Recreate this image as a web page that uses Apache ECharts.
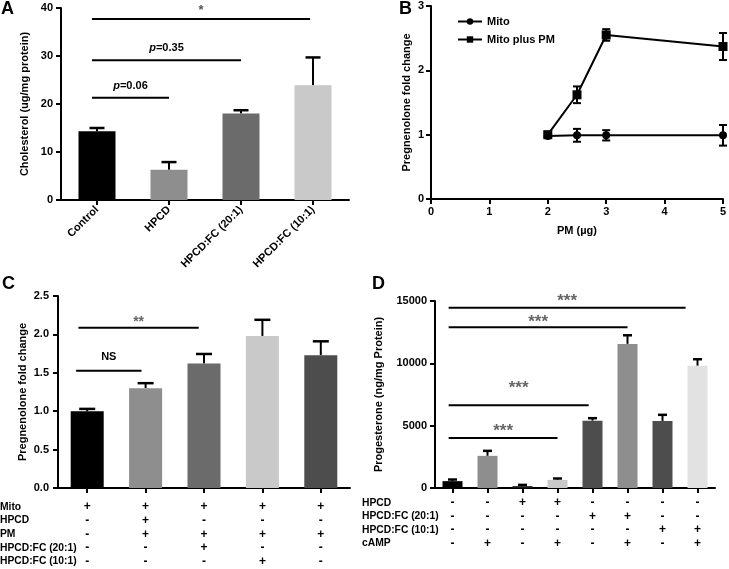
<!DOCTYPE html>
<html><head><meta charset="utf-8">
<script src="https://cdn.jsdelivr.net/npm/echarts@6/dist/echarts.min.js"></script>
<style>html,body{margin:0;padding:0;background:#fff}#c{width:729px;height:569px}</style>
</head><body><div id="c"></div>
<script>
// ---------- Panel A ----------
const catA = ['Control', 'HPCD', 'HPCD:FC (20:1)', 'HPCD:FC (10:1)'];
const valA = [14.3, 6.3, 18.0, 23.9];
const errA = [15.0, 7.9, 18.7, 29.7];
const sigA = [[-0.07, 2.96, 37.7, '*', 40.2], [-0.07, 2, 29.1, '{i|p}=0.35', 31.7], [-0.07, 1, 21.3, '{i|p}=0.06', 23.8]];
const ticksA = [0, 10, 20, 30, 40];

// ---------- Panel B ----------
const xB = [2, 2.5, 3, 5];
const mito = [0.98, 0.99, 0.99, 0.99];
const mitoErr = [0.02, 0.1, 0.08, 0.16];
const mitoPM = [1.0, 1.62, 2.55, 2.37];
const mitoPMErr = [0.03, 0.13, 0.09, 0.21];

// ---------- Panel C ----------
const catC = ['c1', 'c2', 'c3', 'c4', 'c5'];
const valC = [1.0, 1.30, 1.62, 1.98, 1.73];
const errC = [1.03, 1.365, 1.745, 2.19, 1.91];
const rowsC = ['Mito', 'HPCD', 'PM', 'HPCD:FC (20:1)', 'HPCD:FC (10:1)'];
const tableC = [
  ['+', '-', '-', '-', '-'],
  ['+', '+', '+', '-', '-'],
  ['+', '-', '+', '+', '-'],
  ['+', '-', '+', '-', '+'],
  ['+', '-', '+', '-', '-']
];
const sigC = [[-0.15, 1.91, 2.087, '**', 2.215], [-0.19, 0.93, 1.527, 'NS', 1.71]];

// ---------- Panel D ----------
const catD = ['d1', 'd2', 'd3', 'd4', 'd5', 'd6', 'd7', 'd8'];
const valD = [550, 2580, 150, 650, 5400, 11560, 5380, 9800];
const errD = [680, 2980, 250, 760, 5600, 12250, 5870, 10330];
const rowsD = ['HPCD', 'HPCD:FC (20:1)', 'HPCD:FC (10:1)', 'cAMP'];
const tableD = [
  ['-', '-', '-', '-'],
  ['-', '-', '-', '+'],
  ['+', '-', '-', '-'],
  ['+', '-', '-', '+'],
  ['-', '+', '-', '-'],
  ['-', '+', '-', '+'],
  ['-', '-', '+', '-'],
  ['-', '-', '+', '+']
];
const sigD = [
  [-0.11, 6.66, 14466, '***', 15350],
  [-0.11, 5, 12891, '***', 13665],
  [-0.11, 3.89, 6646, '***', 8407],
  [-0.11, 3, 4004, '***', 4938]
];

// ---------- styles ----------
const FONT = '"Liberation Sans", Arial, sans-serif';
const colorsA = ['#000000', '#8e8e8e', '#6b6b6b', '#c9c9c9'];
const colorsC = ['#000000', '#8e8e8e', '#6b6b6b', '#c9c9c9', '#4d4d4d'];
const colorsD = ['#000000', '#8e8e8e', '#1a1a1a', '#c9c9c9', '#4d4d4d', '#8e8e8e', '#4d4d4d', '#e2e2e2'];

const axisLine = { show: true, lineStyle: { color: '#000', width: 2 } };
const axisTick = { show: true, length: 5, lineStyle: { color: '#000', width: 2 } };
const lbl = { color: '#000', fontFamily: FONT, fontWeight: 'bold', fontSize: 11 };

function errBarRender(capW) {
  return function (params, api) {
    const x = api.value(0), v = api.value(1), e = api.value(2);
    const p0 = api.coord([x, v]), p1 = api.coord([x, e]);
    return { type: 'group', children: [
      { type: 'line', shape: { x1: p0[0], y1: p0[1], x2: p1[0], y2: p1[1] }, style: { stroke: '#000', lineWidth: 2 } },
      { type: 'line', shape: { x1: p1[0] - capW / 2, y1: p1[1], x2: p1[0] + capW / 2, y2: p1[1] }, style: { stroke: '#000', lineWidth: 2.5 } }
    ]};
  };
}
function errTwoRender(capW) {
  return function (params, api) {
    const x = api.value(0), v = api.value(1), e = api.value(2);
    const pt = api.coord([x, v + e]), pb = api.coord([x, v - e]);
    return { type: 'group', children: [
      { type: 'line', shape: { x1: pt[0], y1: pt[1], x2: pb[0], y2: pb[1] }, style: { stroke: '#000', lineWidth: 2 } },
      { type: 'line', shape: { x1: pt[0] - capW / 2, y1: pt[1], x2: pt[0] + capW / 2, y2: pt[1] }, style: { stroke: '#000', lineWidth: 2 } },
      { type: 'line', shape: { x1: pb[0] - capW / 2, y1: pb[1], x2: pb[0] + capW / 2, y2: pb[1] }, style: { stroke: '#000', lineWidth: 2 } }
    ]};
  };
}
function sigRender(list, textStyle, starStyle) {
  return function (params, api) {
    const d = list[params.dataIndex];
    const base = api.coord([0, d[2]]);
    const band = api.size([1, 0])[0];
    const x1 = base[0] + d[0] * band, x2 = base[0] + d[1] * band;
    const isStar = d[3].indexOf('*') === 0;
    const st = isStar ? starStyle : textStyle;
    const ty = api.coord([0, d[4]])[1] + (isStar ? st.dy : 0);
    return { type: 'group', children: [
      { type: 'line', shape: { x1: x1, y1: base[1], x2: x2, y2: base[1] }, style: { stroke: '#000', lineWidth: 2 } },
      { type: 'text', x: (x1 + x2) / 2, y: ty, style: {
          text: d[3], align: 'center', verticalAlign: 'middle',
          fontFamily: st.fontFamily, fontWeight: st.fontWeight, fontSize: st.fontSize, fill: st.fill,
          rich: { i: { fontStyle: 'italic', fontWeight: 'bold', fontSize: 11, fontFamily: FONT, fill: '#000' } }
        } }
    ]};
  };
}
const plainText = { fontFamily: FONT, fontWeight: 'bold', fontSize: 11, fill: '#000' };

const chart = echarts.init(document.getElementById('c'), null, { renderer: 'canvas' });
chart.setOption({
  animation: false,
  backgroundColor: '#fff',
  textStyle: { fontFamily: FONT },
  grid: [
    { left: 61, top: 8, width: 288, height: 192, containLabel: false, outerBoundsMode: 'none' },
    { left: 431, top: 6, width: 292, height: 193, containLabel: false, outerBoundsMode: 'none' },
    { left: 58, top: 296, width: 292, height: 192, containLabel: false, outerBoundsMode: 'none' },
    { left: 435, top: 301, width: 280, height: 187, containLabel: false, outerBoundsMode: 'none' }
  ],
  legend: {
    data: ['Mito', 'Mito plus PM'], orient: 'vertical', left: 452, top: 11,
    itemWidth: 24, itemHeight: 8, itemGap: 7,
    textStyle: { color: '#000', fontFamily: FONT, fontWeight: 'bold', fontSize: 11 }
  },
  xAxis: [
    { gridIndex: 0, type: 'category', data: catA, axisLine, axisTick: Object.assign({ alignWithLabel: true }, axisTick),
      axisLabel: Object.assign({ rotate: 45, margin: 8, interval: 0 }, lbl) },
    { gridIndex: 1, type: 'value', min: 0, max: 5, interval: 1, axisLine, axisTick, splitLine: { show: false },
      axisLabel: Object.assign({ margin: 7 }, lbl),
      name: 'PM (µg)', nameLocation: 'middle', nameGap: 26,
      nameTextStyle: { color: '#000', fontFamily: FONT, fontWeight: 'bold', fontSize: 11 } },
    { gridIndex: 2, type: 'category', data: catC, axisLine, axisTick: Object.assign({ alignWithLabel: true }, axisTick),
      axisLabel: Object.assign({}, lbl, { margin: 12, lineHeight: 13.7, fontSize: 12, interval: 0,
        formatter: (v, i) => tableC[i].join('\n') }) },
    { gridIndex: 3, type: 'category', data: catD, axisLine, axisTick: Object.assign({ alignWithLabel: true }, axisTick),
      axisLabel: Object.assign({}, lbl, { margin: 8, lineHeight: 13.5, fontSize: 12, interval: 0,
        formatter: (v, i) => tableD[i].join('\n') }) }
  ],
  yAxis: [
    { gridIndex: 0, type: 'value', min: ticksA[0], max: ticksA[ticksA.length - 1], interval: 10, axisLine, axisTick,
      splitLine: { show: false }, axisLabel: Object.assign({ margin: 8 }, lbl),
      name: 'Cholesterol (ug/mg protein)', nameLocation: 'middle', nameGap: 31,
      nameTextStyle: { color: '#000', fontFamily: FONT, fontWeight: 'bold', fontSize: 11 } },
    { gridIndex: 1, type: 'value', min: 0, max: 3, interval: 1, axisLine, axisTick,
      splitLine: { show: false }, axisLabel: Object.assign({ margin: 7 }, lbl),
      name: 'Pregnenolone fold change', nameLocation: 'middle', nameGap: 19,
      nameTextStyle: { color: '#000', fontFamily: FONT, fontWeight: 'bold', fontSize: 11 } },
    { gridIndex: 2, type: 'value', min: 0, max: 2.5, interval: 0.5, axisLine, axisTick,
      splitLine: { show: false }, axisLabel: Object.assign({ margin: 9, formatter: v => v.toFixed(1) }, lbl),
      name: 'Pregnenolone fold change', nameLocation: 'middle', nameGap: 30,
      nameTextStyle: { color: '#000', fontFamily: FONT, fontWeight: 'bold', fontSize: 11 } },
    { gridIndex: 3, type: 'value', min: 0, max: 15000, interval: 5000, axisLine, axisTick,
      splitLine: { show: false }, axisLabel: Object.assign({ margin: 8, formatter: v => String(v) }, lbl),
      name: 'Progesterone (ng/mg Protein)', nameLocation: 'middle', nameGap: 51,
      nameTextStyle: { color: '#000', fontFamily: FONT, fontWeight: 'bold', fontSize: 11 } }
  ],
  series: [
    // A
    { type: 'bar', xAxisIndex: 0, yAxisIndex: 0, barWidth: 37,
      data: valA.map((v, i) => ({ value: v, itemStyle: { color: colorsA[i] } })) },
    { type: 'custom', xAxisIndex: 0, yAxisIndex: 0, renderItem: errBarRender(15), z: 1,
      encode: { x: 0, y: [1, 2] }, data: valA.map((v, i) => [i, v, errA[i]]) },
    { type: 'custom', xAxisIndex: 0, yAxisIndex: 0, z: 3,
      renderItem: sigRender(sigA, plainText, { fontFamily: FONT, fontWeight: 'bold', fontSize: 13, fill: '#555', dy: 3 }),
      encode: { x: [0, 1], y: 2 }, data: sigA.map(d => [d[0], d[1], d[2], 0, d[4]]) },
    // B
    { type: 'line', name: 'Mito', xAxisIndex: 1, yAxisIndex: 1, symbol: 'circle', symbolSize: 8,
      lineStyle: { color: '#000', width: 2 }, itemStyle: { color: '#000' },
      data: xB.map((x, i) => [x, mito[i]]) },
    { type: 'line', name: 'Mito plus PM', xAxisIndex: 1, yAxisIndex: 1, symbol: 'rect', symbolSize: 9,
      lineStyle: { color: '#000', width: 2 }, itemStyle: { color: '#000' },
      data: xB.map((x, i) => [x, mitoPM[i]]) },
    { type: 'custom', xAxisIndex: 1, yAxisIndex: 1, renderItem: errTwoRender(8),
      encode: { x: 0, y: 1 }, data: xB.map((x, i) => [x, mito[i], mitoErr[i]]) },
    { type: 'custom', xAxisIndex: 1, yAxisIndex: 1, renderItem: errTwoRender(8),
      encode: { x: 0, y: 1 }, data: xB.map((x, i) => [x, mitoPM[i], mitoPMErr[i]]) },
    // C
    { type: 'bar', xAxisIndex: 2, yAxisIndex: 2, barWidth: 33,
      data: valC.map((v, i) => ({ value: v, itemStyle: { color: colorsC[i] } })) },
    { type: 'custom', xAxisIndex: 2, yAxisIndex: 2, renderItem: errBarRender(16), z: 1,
      encode: { x: 0, y: [1, 2] }, data: valC.map((v, i) => [i, v, errC[i]]) },
    { type: 'custom', xAxisIndex: 2, yAxisIndex: 2, z: 3,
      renderItem: sigRender(sigC, plainText, { fontFamily: FONT, fontWeight: 'bold', fontSize: 14, fill: '#666', dy: 4 }),
      encode: { x: [0, 1], y: 2 }, data: sigC.map(d => [d[0], d[1], d[2], 0, d[4]]) },
    // D
    { type: 'bar', xAxisIndex: 3, yAxisIndex: 3, barWidth: 20,
      data: valD.map((v, i) => ({ value: v, itemStyle: { color: colorsD[i] } })) },
    { type: 'custom', xAxisIndex: 3, yAxisIndex: 3, renderItem: errBarRender(9), z: 1,
      encode: { x: 0, y: [1, 2] }, data: valD.map((v, i) => [i, v, errD[i]]) },
    { type: 'custom', xAxisIndex: 3, yAxisIndex: 3, z: 3,
      renderItem: sigRender(sigD, plainText, { fontFamily: FONT, fontWeight: 'bold', fontSize: 17, fill: '#666', dy: 5 }),
      encode: { x: [0, 1], y: 2 }, data: sigD.map(d => [d[0], d[1], d[2], 0, d[4]]) }
  ],
  graphic: [
    { type: 'text', left: 1, top: 0, style: { text: 'A', font: 'bold 18px ' + FONT, fill: '#000' } },
    { type: 'text', left: 399, top: 0, style: { text: 'B', font: 'bold 18px ' + FONT, fill: '#000' } },
    { type: 'text', left: 2, top: 275, style: { text: 'C', font: 'bold 18px ' + FONT, fill: '#000' } },
    { type: 'text', left: 372, top: 275, style: { text: 'D', font: 'bold 18px ' + FONT, fill: '#000' } },
    { type: 'text', left: 0, top: 500, style: { text: rowsC.join('\n'), lineHeight: 13.7, font: 'bold 10.3px ' + FONT, fill: '#000' } },
    { type: 'text', left: 362, top: 496, style: { text: rowsD.join('\n'), lineHeight: 13.5, font: 'bold 10.3px ' + FONT, fill: '#000' } }
  ]
});
</script></body></html>
